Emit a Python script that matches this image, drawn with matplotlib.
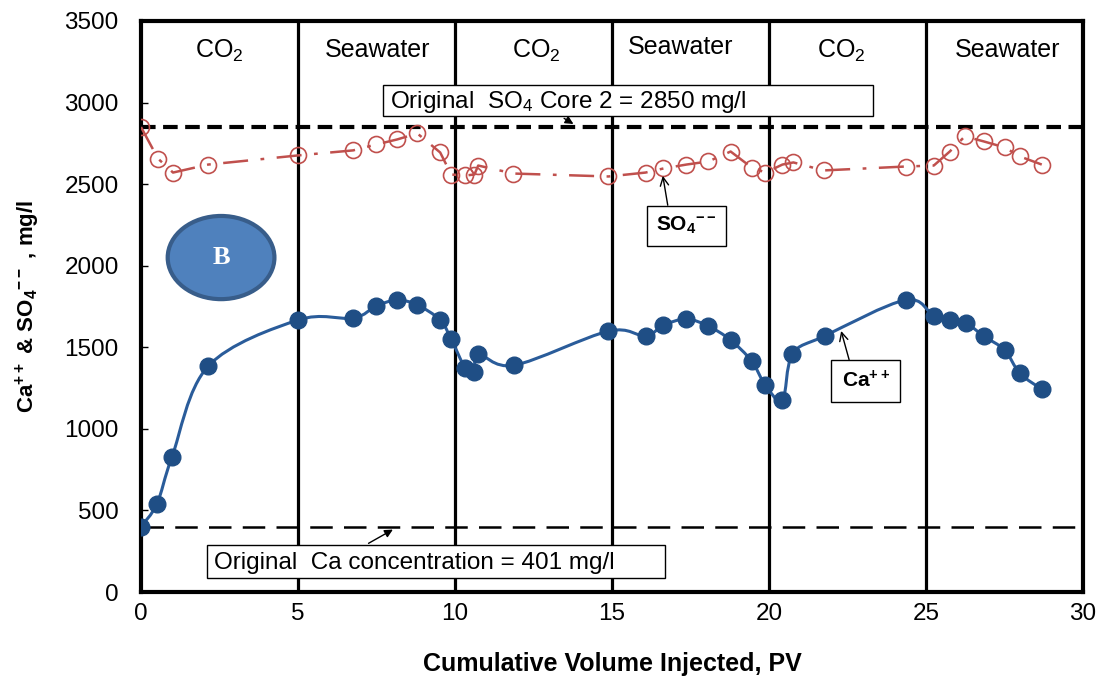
import numpy as np
import matplotlib
matplotlib.use("Agg")
import matplotlib.pyplot as plt
from matplotlib.path import Path
from matplotlib.patches import PathPatch, Ellipse, Rectangle

plt.rcParams['font.family'] = ['Liberation Sans', 'DejaVu Sans']
plt.rcParams['mathtext.default'] = 'regular'

# Ca++ effluent concentration (mg/l) vs cumulative PV injected
pv_ca = [0.0, 0.51, 0.99, 2.14, 5.0, 6.76, 7.49, 8.16, 8.80, 9.53, 9.88, 10.33,
         10.62, 10.74, 11.89, 14.89, 16.07, 16.64, 17.37, 18.07, 18.78, 19.45,
         19.89, 20.43, 20.75, 21.77, 24.35, 25.25, 25.76, 26.27, 26.84, 27.51,
         27.99, 28.69]
ca = [401, 541, 830, 1384, 1667, 1679, 1753, 1790, 1759, 1667, 1550, 1372,
      1347, 1458, 1390, 1599, 1569, 1636, 1673, 1630, 1544, 1415, 1267, 1175,
      1458, 1569, 1790, 1692, 1667, 1649, 1569, 1482, 1341, 1243]

# SO4-- effluent concentration (mg/l)
pv_so4 = [0.0, 0.54, 1.02, 2.14, 5.0, 6.76, 7.49, 8.16, 8.80, 9.53, 9.88, 10.33,
          10.62, 10.74, 11.86, 14.89, 16.07, 16.64, 17.37, 18.07, 18.78, 19.45,
          19.89, 20.43, 20.78, 21.74, 24.35, 25.25, 25.76, 26.24, 26.84, 27.51,
          27.99, 28.69]
so4 = [2850, 2657, 2571, 2620, 2676, 2707, 2743, 2774, 2811, 2694, 2559, 2553,
       2559, 2614, 2565, 2547, 2571, 2596, 2620, 2639, 2700, 2602, 2571, 2620,
       2633, 2584, 2608, 2614, 2700, 2793, 2762, 2725, 2670, 2620]

so4_original = 2850
ca_original = 401

slug_edges = [5, 10, 15, 20, 25]
slug_names = ['CO$_2$', 'Seawater', 'CO$_2$', 'Seawater', 'CO$_2$', 'Seawater']
slug_label_x = [2.5, 7.55, 12.6, 17.2, 22.3, 27.6]
slug_label_y = [3315, 3325, 3315, 3340, 3315, 3325]

ca_color = '#1F4E85'
so4_color = '#C0504D'


def smooth_path(xs, ys):
    # cubic Bezier through every point (Catmull-Rom style control points)
    p = np.column_stack([xs, ys]).astype(float)
    n = len(p)
    verts = [p[0]]
    codes = [Path.MOVETO]
    for i in range(n - 1):
        p0 = p[i - 1] if i > 0 else p[i]
        p3 = p[i + 2] if i + 2 < n else p[i + 1]
        c1 = p[i] + (p[i + 1] - p0) / 6.0
        c2 = p[i + 1] - (p3 - p[i]) / 6.0
        verts += [c1, c2, p[i + 1]]
        codes += [Path.CURVE4] * 3
    return Path(verts, codes)


fig = plt.figure(figsize=(11.05, 6.84), dpi=100)
ax = fig.add_axes([0.1276, 0.1345, 0.8524, 0.8348])

# slug boundaries
for xe in slug_edges:
    ax.axvline(xe, color='black', lw=2.3, zorder=1)
for xl, yl, name in zip(slug_label_x, slug_label_y, slug_names):
    ax.text(xl, yl, name, ha='center', va='center', fontsize=18)

# original concentrations
ax.axhline(so4_original, color='black', lw=3, linestyle=(0, (3.5, 1.8)), zorder=2)
ax.axhline(ca_original, color='black', lw=1.8, linestyle=(0, (9, 4.5)), zorder=2)

# SO4-- series
ax.plot(pv_so4, so4, color=so4_color, lw=1.8, linestyle=(0, (10, 5, 1.5, 5)),
        marker='o', markersize=11.5, markerfacecolor='none',
        markeredgecolor=so4_color, markeredgewidth=1.2, zorder=3)

# Ca++ series, smoothed line
ax.add_patch(PathPatch(smooth_path(pv_ca, ca), facecolor='none',
                       edgecolor='#2A5C9A', lw=2.2, zorder=4))
ax.plot(pv_ca, ca, linestyle='none', marker='o', markersize=12,
        color=ca_color, zorder=5)

# annotation boxes
ax.add_patch(Rectangle((7.7, 2915), 15.6, 195, facecolor='white',
                       edgecolor='black', lw=1, zorder=6))
ax.text(7.93, 3005, 'Original  SO$_4$ Core 2 = 2850 mg/l', fontsize=17.5,
        va='center', ha='left', zorder=7)
ax.annotate('', xy=(13.85, so4_original + 10), xytext=(13.4, 2912),
            arrowprops=dict(arrowstyle='-|>', color='black', lw=1,
                            mutation_scale=12), zorder=7)

ax.add_patch(Rectangle((2.1, 85), 14.6, 205, facecolor='white',
                       edgecolor='black', lw=1, zorder=6))
ax.text(2.33, 180, 'Original  Ca concentration = 401 mg/l', fontsize=17.5,
        va='center', ha='left', zorder=7)
ax.annotate('', xy=(8.1, ca_original - 10), xytext=(7.17, 290),
            arrowprops=dict(arrowstyle='-|>', color='black', lw=1,
                            mutation_scale=12), zorder=7)

ax.annotate(r'SO$_4$$^{--}$', xy=(16.62, so4[17] - 45), xytext=(17.37, 2245),
            fontsize=15, fontweight='bold', ha='center', va='center',
            bbox=dict(boxstyle='square,pad=0.45', fc='white', ec='black', lw=1),
            arrowprops=dict(arrowstyle='->', color='black', lw=1,
                            shrinkA=0, shrinkB=0, relpos=(0.22, 1.0)),
            zorder=7)
ax.annotate(r'Ca$^{++}$', xy=(22.3, 1600), xytext=(23.08, 1292),
            fontsize=15, fontweight='bold', ha='center', va='center',
            bbox=dict(boxstyle='square,pad=0.5', fc='white', ec='black', lw=1),
            arrowprops=dict(arrowstyle='->', color='black', lw=1,
                            shrinkA=0, shrinkB=0, relpos=(0.22, 1.0)),
            zorder=7)

# core label badge
ax.add_patch(Ellipse((2.55, 2050), 3.4, 510, facecolor='#4F81BD',
                     edgecolor='#385D8A', lw=3, zorder=6))
ax.text(2.55, 2050, 'B', fontsize=19, fontweight='bold', color='white',
        family='Liberation Serif', ha='center', va='center', zorder=7)

ax.set_xlim(0, 30)
ax.set_ylim(0, 3500)
ax.set_xticks(np.arange(0, 31, 5))
ax.set_yticks(np.arange(0, 3501, 500))
ax.tick_params(axis='both', direction='in', labelsize=17.5, length=5, width=1)
ax.tick_params(axis='x', length=0, pad=8)
ax.tick_params(axis='y', pad=16)
for s in ax.spines.values():
    s.set_linewidth(3)

ax.set_xlabel('Cumulative Volume Injected, PV', fontsize=18, fontweight='bold',
              labelpad=19)
ax.set_ylabel(r'Ca$^{++}$ & SO$_4$$^{--}$ , mg/l', fontsize=16,
              fontweight='bold', labelpad=16)

fig.savefig('out.png', dpi=100)
